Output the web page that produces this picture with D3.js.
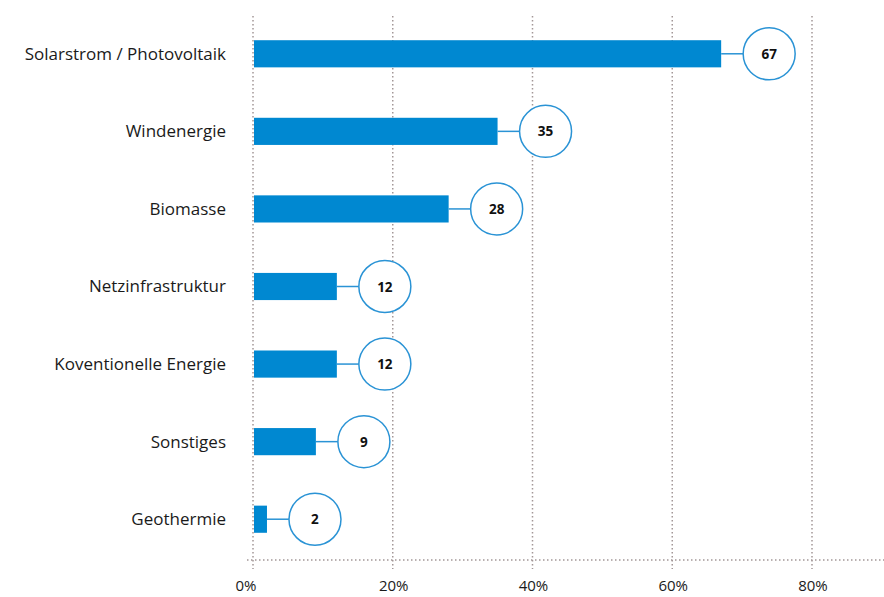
<!DOCTYPE html>
<html>
<head>
<meta charset="utf-8">
<script src="https://cdn.jsdelivr.net/npm/d3@7"></script>
<style>
	body { margin: 0; background: #fff; }
	svg { display: block; font-family: "Open Sans", sans-serif; }
</style>
</head>
<body>
<div id="chart"></div>
<script>

const categories = [ "Solarstrom / Photovoltaik", "Windenergie", "Biomasse", "Netzinfrastruktur",
	"Koventionelle Energie", "Sonstiges", "Geothermie" ];
const values = [ 67, 35, 28, 12, 12, 9, 2 ];
const ticks = [ 0, 20, 40, 60, 80 ];

const width = 884, height = 597;

let svg = d3.select( "#chart" )
	.append( "svg" )
		.attr( "width", width )
		.attr( "height", height );

let x = d3.scaleLinear()
	.domain( [ 0, 80 ] )
	.range( [ 253, 812 ] );

let y = d3.scaleBand()
	.domain( categories )
	.range( [ 15, 558 ] )
	.paddingInner( 0.65 )
	.paddingOuter( 0.325 );

const gridColor = "#a39797";

// vertical dotted grid
svg.append( "g" )
	.selectAll( "line" )
	.data( ticks )
	.join( "line" )
		.attr( "x1", d => x( d ) )
		.attr( "x2", d => x( d ) )
		.attr( "y1", 16 )
		.attr( "y2", 569 )
		.attr( "stroke", gridColor )
		.attr( "stroke-width", 1.5 )
		.attr( "stroke-dasharray", "1.5,2.5" );

// axis line
svg.append( "line" )
	.attr( "x1", 247 )
	.attr( "x2", 884 )
	.attr( "y1", 560 )
	.attr( "y2", 560 )
	.attr( "stroke", gridColor )
	.attr( "stroke-width", 1.5 )
	.attr( "stroke-dasharray", "1.5,2.5" );

// tick labels
svg.append( "g" )
	.selectAll( "text" )
	.data( ticks )
	.join( "text" )
		.attr( "x", d => x( d ) + ( d === 0 ? -7 : 1 ) )
		.attr( "y", 591 )
		.attr( "text-anchor", "middle" )
		.attr( "font-size", 15 )
		.attr( "fill", "#1a1a1a" )
		.text( d => d + "%" );

// category labels
svg.append( "g" )
	.selectAll( "text" )
	.data( categories )
	.join( "text" )
		.attr( "x", 226 )
		.attr( "y", d => y( d ) + y.bandwidth() / 2 )
		.attr( "dy", "0.35em" )
		.attr( "text-anchor", "end" )
		.attr( "font-size", 17 )
		.attr( "fill", "#1a1a1a" )
		.text( d => d );

let rows = categories.map( ( c, i ) => ( { cat: c, val: values[ i ] } ) );

// bars
svg.append( "g" )
	.selectAll( "rect" )
	.data( rows )
	.join( "rect" )
		.attr( "x", x( 0 ) + 1 )
		.attr( "y", d => y( d.cat ) )
		.attr( "width", d => x( d.val ) - x( 0 ) - 1 )
		.attr( "height", y.bandwidth() )
		.attr( "fill", "#0088d1" );

const r = 26, gap = 48;

// connectors
svg.append( "g" )
	.selectAll( "line" )
	.data( rows )
	.join( "line" )
		.attr( "x1", d => x( d.val ) )
		.attr( "x2", d => x( d.val ) + gap - r )
		.attr( "y1", d => y( d.cat ) + y.bandwidth() / 2 )
		.attr( "y2", d => y( d.cat ) + y.bandwidth() / 2 )
		.attr( "stroke", "#2a93d5" )
		.attr( "stroke-width", 1.5 );

// value bubbles
let bubbles = svg.append( "g" )
	.selectAll( "g" )
	.data( rows )
	.join( "g" )
		.attr( "transform", d => `translate(${ x( d.val ) + gap },${ y( d.cat ) + y.bandwidth() / 2 })` );

bubbles.append( "circle" )
	.attr( "r", r )
	.attr( "fill", "#fff" )
	.attr( "stroke", "#2a93d5" )
	.attr( "stroke-width", 1.5 );

bubbles.append( "text" )
	.attr( "text-anchor", "middle" )
	.attr( "dy", "0.38em" )
	.attr( "font-size", 13.5 )
	.attr( "font-weight", "bold" )
	.attr( "fill", "#111" )
	.text( d => d.val );

</script>
</body>
</html>
